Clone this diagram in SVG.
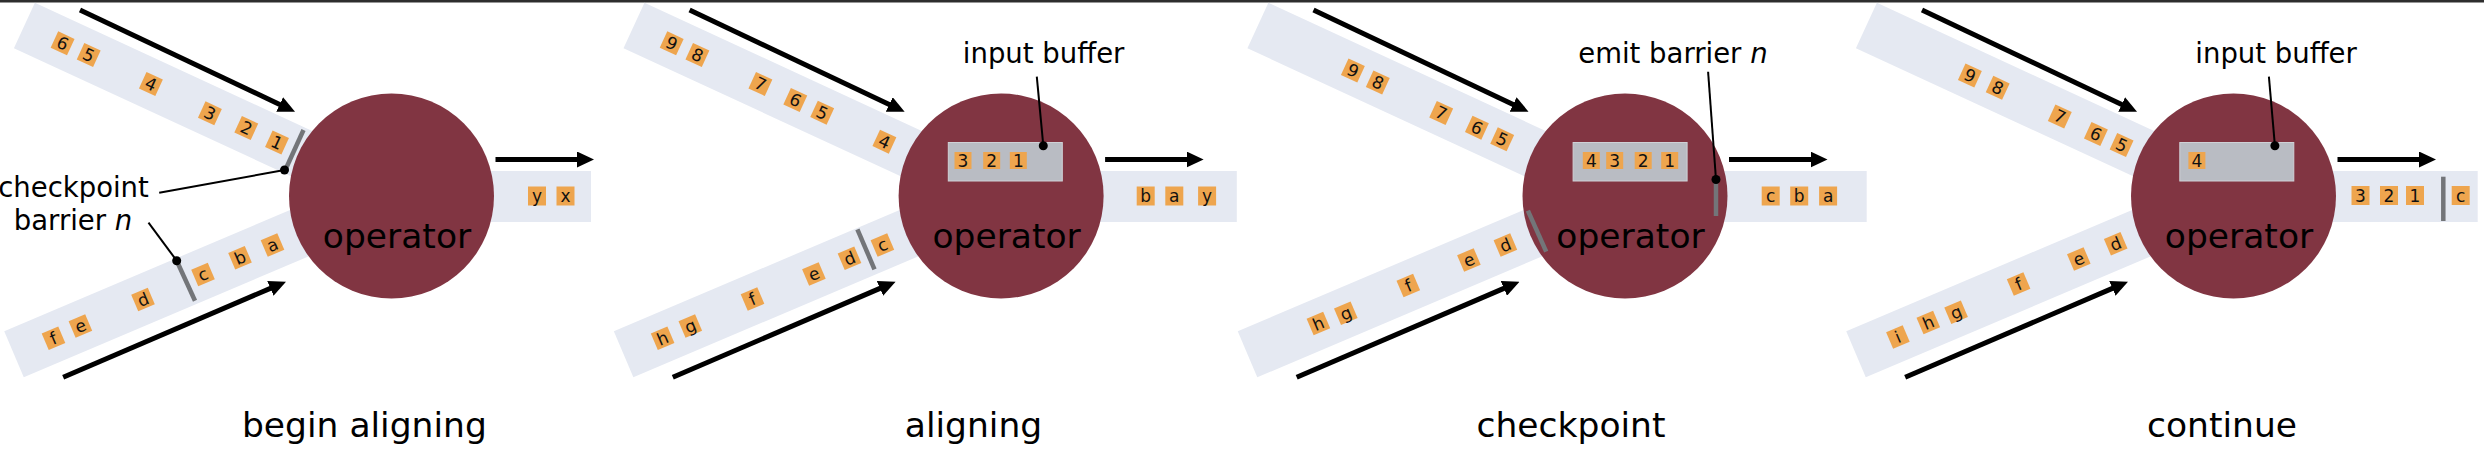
<svg xmlns="http://www.w3.org/2000/svg" width="2484" height="466" viewBox="0 0 2484 466">
<style>
.band{fill:#e5e9f2}
.op{fill:#813542}
.tok rect{fill:#eea54e}
.tok text{font-family:"DejaVu Sans",sans-serif;font-size:17px;text-anchor:middle;fill:#111}
.buf{fill:#b9bcc3;stroke:#cfd1d6;stroke-width:1}
.bar{stroke:#737579;stroke-width:4.5;fill:none}
.dot{fill:#000}
.lead{stroke:#000;stroke-width:2;fill:none}
.arr{stroke:#000;stroke-width:5;fill:none;marker-end:url(#ah)}
.lbl{font-family:"DejaVu Sans",sans-serif;font-size:34.5px;text-anchor:middle;fill:#000}
.ann{font-family:"DejaVu Sans",sans-serif;font-size:27.5px;text-anchor:middle;fill:#000}
</style>
<defs>
<marker id="ah" viewBox="0 0 17 16" refX="7" refY="8" markerWidth="17" markerHeight="16" markerUnits="userSpaceOnUse" orient="auto">
<path d="M0,0 L17,8 L0,16 z" fill="#000"/>
</marker>
</defs>
<rect x="0" y="0" width="2484" height="2.5" fill="#2e2e2e"/>

<!-- Panel 1 -->
<g id="panel1">
<g id="p1-input1">
<rect class="band" transform="translate(24.4,25.5) rotate(24.8)" x="0" y="-25" width="340" height="50"/>
<g class="tok" transform="translate(62.6,43.3) rotate(24.8)"><rect x="-9" y="-9" width="18" height="18"/><text y="6">6</text></g>
<g class="tok" transform="translate(88.7,55) rotate(24.8)"><rect x="-9" y="-9" width="18" height="18"/><text y="6">5</text></g>
<g class="tok" transform="translate(150.9,84) rotate(24.8)"><rect x="-9" y="-9" width="18" height="18"/><text y="6">4</text></g>
<g class="tok" transform="translate(209.9,113.3) rotate(24.8)"><rect x="-9" y="-9" width="18" height="18"/><text y="6">3</text></g>
<g class="tok" transform="translate(246.3,128) rotate(24.8)"><rect x="-9" y="-9" width="18" height="18"/><text y="6">2</text></g>
<g class="tok" transform="translate(277,142.5) rotate(24.8)"><rect x="-9" y="-9" width="18" height="18"/><text y="6">1</text></g>
</g>
<g id="p1-input2">
<rect class="band" transform="translate(14,354.3) rotate(-23)" x="0" y="-25" width="340" height="50"/>
<g class="tok" transform="translate(53.5,338.3) rotate(-23)"><rect x="-9" y="-9" width="18" height="18"/><text y="6">f</text></g>
<g class="tok" transform="translate(80.4,326) rotate(-23)"><rect x="-9" y="-9" width="18" height="18"/><text y="6">e</text></g>
<g class="tok" transform="translate(143,299.5) rotate(-23)"><rect x="-9" y="-9" width="18" height="18"/><text y="6">d</text></g>
<g class="tok" transform="translate(203,274.5) rotate(-23)"><rect x="-9" y="-9" width="18" height="18"/><text y="6">c</text></g>
<g class="tok" transform="translate(240,257.7) rotate(-23)"><rect x="-9" y="-9" width="18" height="18"/><text y="6">b</text></g>
<g class="tok" transform="translate(272.5,245) rotate(-23)"><rect x="-9" y="-9" width="18" height="18"/><text y="6">a</text></g>
</g>
<g id="p1-output">
<rect class="band" x="470" y="171" width="121" height="51"/>
<g class="tok" transform="translate(537,196)"><rect x="-9" y="-9.5" width="18" height="19"/><text y="6">y</text></g>
<g class="tok" transform="translate(565.5,196)"><rect x="-9" y="-9.5" width="18" height="19"/><text y="6">x</text></g>
</g>
<g id="p1-operator">
<circle class="op" cx="391.5" cy="196" r="102.5"/>
<text class="lbl" x="397" y="248.3">operator</text>
</g>
<g id="p1-barriers">
<line class="bar" x1="303.5" y1="130" x2="285.5" y2="169.5"/>
<line class="bar" x1="176.7" y1="260.7" x2="195" y2="300.7"/>
<circle class="dot" cx="284.5" cy="170" r="4.5"/>
<circle class="dot" cx="176.7" cy="260.7" r="4.5"/>
</g>
<g id="p1-annotation">
<text class="ann" x="73.5" y="196.7">checkpoint</text>
<text class="ann" x="73" y="230">barrier <tspan font-style="italic">n</tspan></text>
</g>
<text id="p1-title" class="lbl" x="364.4" y="436.7">begin aligning</text>
</g>

<!-- Panel 2 -->
<g id="panel2" transform="translate(609.6,0)">
<g id="p2-input1">
<rect class="band" transform="translate(24.4,25.5) rotate(24.8)" x="0" y="-25" width="340" height="50"/>
<g class="tok" transform="translate(62.1,43.3) rotate(24.8)"><rect x="-9" y="-9" width="18" height="18"/><text y="6">9</text></g>
<g class="tok" transform="translate(87.8,55) rotate(24.8)"><rect x="-9" y="-9" width="18" height="18"/><text y="6">8</text></g>
<g class="tok" transform="translate(150.8,84) rotate(24.8)"><rect x="-9" y="-9" width="18" height="18"/><text y="6">7</text></g>
<g class="tok" transform="translate(185.7,100) rotate(24.8)"><rect x="-9" y="-9" width="18" height="18"/><text y="6">6</text></g>
<g class="tok" transform="translate(212.6,112.7) rotate(24.8)"><rect x="-9" y="-9" width="18" height="18"/><text y="6">5</text></g>
<g class="tok" transform="translate(274.8,141.7) rotate(24.8)"><rect x="-9" y="-9" width="18" height="18"/><text y="6">4</text></g>
</g>
<g id="p2-input2">
<rect class="band" transform="translate(14,354.3) rotate(-23)" x="0" y="-25" width="340" height="50"/>
<g class="tok" transform="translate(53,338.3) rotate(-23)"><rect x="-9" y="-9" width="18" height="18"/><text y="6">h</text></g>
<g class="tok" transform="translate(80.7,326) rotate(-23)"><rect x="-9" y="-9" width="18" height="18"/><text y="6">g</text></g>
<g class="tok" transform="translate(142.9,299) rotate(-23)"><rect x="-9" y="-9" width="18" height="18"/><text y="6">f</text></g>
<g class="tok" transform="translate(204.3,274) rotate(-23)"><rect x="-9" y="-9" width="18" height="18"/><text y="6">e</text></g>
<g class="tok" transform="translate(239.9,258.3) rotate(-23)"><rect x="-9" y="-9" width="18" height="18"/><text y="6">d</text></g>
<g class="tok" transform="translate(272.8,245) rotate(-23)"><rect x="-9" y="-9" width="18" height="18"/><text y="6">c</text></g>
</g>
<g id="p2-output">
<rect class="band" x="470" y="171" width="157.2" height="51"/>
<g class="tok" transform="translate(536.1,196)"><rect x="-9" y="-9.5" width="18" height="19"/><text y="6">b</text></g>
<g class="tok" transform="translate(564.7,196)"><rect x="-9" y="-9.5" width="18" height="19"/><text y="6">a</text></g>
<g class="tok" transform="translate(597.5,196)"><rect x="-9" y="-9.5" width="18" height="19"/><text y="6">y</text></g>
</g>
<g id="p2-operator">
<circle class="op" cx="391.5" cy="196" r="102.5"/>
<text class="lbl" x="397" y="248.3">operator</text>
</g>
<g id="p2-buffer">
<rect class="buf" x="338.7" y="142.5" width="114" height="38.5"/>
<g class="tok" transform="translate(353.4,160.5)"><rect x="-8.5" y="-8.5" width="17" height="17"/><text y="6">3</text></g>
<g class="tok" transform="translate(382.1,160.5)"><rect x="-8.5" y="-8.5" width="17" height="17"/><text y="6">2</text></g>
<g class="tok" transform="translate(408.7,160.5)"><rect x="-8.5" y="-8.5" width="17" height="17"/><text y="6">1</text></g>
<circle class="dot" cx="433.7" cy="145.7" r="4.5"/>
</g>
<g id="p2-barriers">
<line class="bar" x1="247.8" y1="229.3" x2="264.9" y2="269.3"/>
</g>
<text id="p2-annotation" class="ann" x="434" y="63.3">input buffer</text>
</g>
<text id="p2-title" class="lbl" x="973.5" y="436.7">aligning</text>

<!-- Panel 3 -->
<g id="panel3" transform="translate(1233.5,0)">
<g id="p3-input1">
<rect class="band" transform="translate(24.4,25.5) rotate(24.8)" x="0" y="-25" width="340" height="50"/>
<g class="tok" transform="translate(119.4,70.5) rotate(24.8)"><rect x="-9" y="-9" width="18" height="18"/><text y="6">9</text></g>
<g class="tok" transform="translate(144.3,82.5) rotate(24.8)"><rect x="-9" y="-9" width="18" height="18"/><text y="6">8</text></g>
<g class="tok" transform="translate(207.7,113) rotate(24.8)"><rect x="-9" y="-9" width="18" height="18"/><text y="6">7</text></g>
<g class="tok" transform="translate(243.4,127.7) rotate(24.8)"><rect x="-9" y="-9" width="18" height="18"/><text y="6">6</text></g>
<g class="tok" transform="translate(268.7,139.3) rotate(24.8)"><rect x="-9" y="-9" width="18" height="18"/><text y="6">5</text></g>
</g>
<g id="p3-input2">
<rect class="band" transform="translate(14,354.3) rotate(-23)" x="0" y="-25" width="340" height="50"/>
<g class="tok" transform="translate(84.9,323.5) rotate(-23)"><rect x="-9" y="-9" width="18" height="18"/><text y="6">h</text></g>
<g class="tok" transform="translate(112.3,313.3) rotate(-23)"><rect x="-9" y="-9" width="18" height="18"/><text y="6">g</text></g>
<g class="tok" transform="translate(174.8,285.5) rotate(-23)"><rect x="-9" y="-9" width="18" height="18"/><text y="6">f</text></g>
<g class="tok" transform="translate(235.4,260) rotate(-23)"><rect x="-9" y="-9" width="18" height="18"/><text y="6">e</text></g>
<g class="tok" transform="translate(271.9,245) rotate(-23)"><rect x="-9" y="-9" width="18" height="18"/><text y="6">d</text></g>
</g>
<g id="p3-output">
<rect class="band" x="470" y="171" width="163.2" height="51"/>
<g class="tok" transform="translate(537.2,196)"><rect x="-9" y="-9.5" width="18" height="19"/><text y="6">c</text></g>
<g class="tok" transform="translate(565.7,196)"><rect x="-9" y="-9.5" width="18" height="19"/><text y="6">b</text></g>
<g class="tok" transform="translate(594.6,196)"><rect x="-9" y="-9.5" width="18" height="19"/><text y="6">a</text></g>
</g>
<g id="p3-operator">
<circle class="op" cx="391.5" cy="196" r="102.5"/>
<text class="lbl" x="397" y="248.3">operator</text>
</g>
<g id="p3-buffer">
<rect class="buf" x="339.6" y="142.5" width="114" height="38.5"/>
<g class="tok" transform="translate(357.8,160.5)"><rect x="-8.5" y="-8.5" width="17" height="17"/><text y="6">4</text></g>
<g class="tok" transform="translate(381.2,160.5)"><rect x="-8.5" y="-8.5" width="17" height="17"/><text y="6">3</text></g>
<g class="tok" transform="translate(409.7,160.5)"><rect x="-8.5" y="-8.5" width="17" height="17"/><text y="6">2</text></g>
<g class="tok" transform="translate(436.2,160.5)"><rect x="-8.5" y="-8.5" width="17" height="17"/><text y="6">1</text></g>
</g>
<g id="p3-barriers">
<line class="bar" x1="294.4" y1="210.7" x2="312.7" y2="251.7"/>
<line class="bar" x1="482.5" y1="179.5" x2="482.5" y2="216"/>
<circle class="dot" cx="482.5" cy="179.5" r="4.5"/>
</g>
<text id="p3-annotation" class="ann" x="439.4" y="63.3">emit barrier <tspan font-style="italic">n</tspan></text>
</g>
<text id="p3-title" class="lbl" x="1571" y="436.7">checkpoint</text>

<!-- Panel 4 -->
<g id="panel4" transform="translate(1842,0)">
<g id="p4-input1">
<rect class="band" transform="translate(24.4,25.5) rotate(24.8)" x="0" y="-25" width="340" height="50"/>
<g class="tok" transform="translate(127.9,75.5) rotate(24.8)"><rect x="-9" y="-9" width="18" height="18"/><text y="6">9</text></g>
<g class="tok" transform="translate(155.7,87.8) rotate(24.8)"><rect x="-9" y="-9" width="18" height="18"/><text y="6">8</text></g>
<g class="tok" transform="translate(217.8,116.5) rotate(24.8)"><rect x="-9" y="-9" width="18" height="18"/><text y="6">7</text></g>
<g class="tok" transform="translate(253.9,134) rotate(24.8)"><rect x="-9" y="-9" width="18" height="18"/><text y="6">6</text></g>
<g class="tok" transform="translate(279.6,145) rotate(24.8)"><rect x="-9" y="-9" width="18" height="18"/><text y="6">5</text></g>
</g>
<g id="p4-input2">
<rect class="band" transform="translate(14,354.3) rotate(-23)" x="0" y="-25" width="340" height="50"/>
<g class="tok" transform="translate(55.9,337) rotate(-23)"><rect x="-9" y="-9" width="18" height="18"/><text y="6">i</text></g>
<g class="tok" transform="translate(86.3,322.5) rotate(-23)"><rect x="-9" y="-9" width="18" height="18"/><text y="6">h</text></g>
<g class="tok" transform="translate(114.1,312.3) rotate(-23)"><rect x="-9" y="-9" width="18" height="18"/><text y="6">g</text></g>
<g class="tok" transform="translate(176.6,284) rotate(-23)"><rect x="-9" y="-9" width="18" height="18"/><text y="6">f</text></g>
<g class="tok" transform="translate(236.8,259) rotate(-23)"><rect x="-9" y="-9" width="18" height="18"/><text y="6">e</text></g>
<g class="tok" transform="translate(273.7,243.8) rotate(-23)"><rect x="-9" y="-9" width="18" height="18"/><text y="6">d</text></g>
</g>
<g id="p4-output">
<rect class="band" x="470" y="171" width="165.7" height="51"/>
<g class="tok" transform="translate(518.5,195.5)"><rect x="-9" y="-9.5" width="18" height="19"/><text y="6">3</text></g>
<g class="tok" transform="translate(547,195.5)"><rect x="-9" y="-9.5" width="18" height="19"/><text y="6">2</text></g>
<g class="tok" transform="translate(573,195.5)"><rect x="-9" y="-9.5" width="18" height="19"/><text y="6">1</text></g>
<line class="bar" x1="601.3" y1="176.7" x2="601.3" y2="221"/>
<g class="tok" transform="translate(618.7,195.5)"><rect x="-9" y="-9.5" width="18" height="19"/><text y="6">c</text></g>
</g>
<g id="p4-operator">
<circle class="op" cx="391.5" cy="196" r="102.5"/>
<text class="lbl" x="397" y="248.3">operator</text>
</g>
<g id="p4-buffer">
<rect class="buf" x="337.8" y="142.5" width="114" height="38.5"/>
<g class="tok" transform="translate(354.9,160.5)"><rect x="-8.5" y="-8.5" width="17" height="17"/><text y="6">4</text></g>
<circle class="dot" cx="432.9" cy="145.7" r="4.5"/>
</g>
<text id="p4-annotation" class="ann" x="434.1" y="63.3">input buffer</text>
</g>
<text id="p4-title" class="lbl" x="2222" y="436.7">continue</text>

<!-- Connectors -->
<g id="connectors">
<g transform="translate(0,0)">
<line class="arr" x1="80" y1="10" x2="286" y2="107.4"/>
<line class="arr" x1="63.2" y1="377.3" x2="276.8" y2="285.6"/>
<line class="arr" x1="495.5" y1="159.5" x2="584" y2="159.5"/>
<line class="lead" x1="284.5" y1="170" x2="159.2" y2="192.7"/>
<line class="lead" x1="176.7" y1="260.7" x2="148.5" y2="222.7"/>
</g>
<g transform="translate(609.6,0)">
<line class="arr" x1="80" y1="10" x2="286" y2="107.4"/>
<line class="arr" x1="63.2" y1="377.3" x2="276.8" y2="285.6"/>
<line class="arr" x1="495.5" y1="159.5" x2="584" y2="159.5"/>
<line class="lead" x1="433.7" y1="145.7" x2="427.2" y2="76.7"/>
</g>
<g transform="translate(1233.5,0)">
<line class="arr" x1="80" y1="10" x2="286" y2="107.4"/>
<line class="arr" x1="63.2" y1="377.3" x2="276.8" y2="285.6"/>
<line class="arr" x1="495.5" y1="159.5" x2="584" y2="159.5"/>
<line class="lead" x1="482.5" y1="179.5" x2="474.6" y2="71.7"/>
</g>
<g transform="translate(1842,0)">
<line class="arr" x1="80" y1="10" x2="286" y2="107.4"/>
<line class="arr" x1="63.2" y1="377.3" x2="276.8" y2="285.6"/>
<line class="arr" x1="495.5" y1="159.5" x2="584" y2="159.5"/>
<line class="lead" x1="432.9" y1="145.7" x2="426.9" y2="76.7"/>
</g>
</g>
</svg>
